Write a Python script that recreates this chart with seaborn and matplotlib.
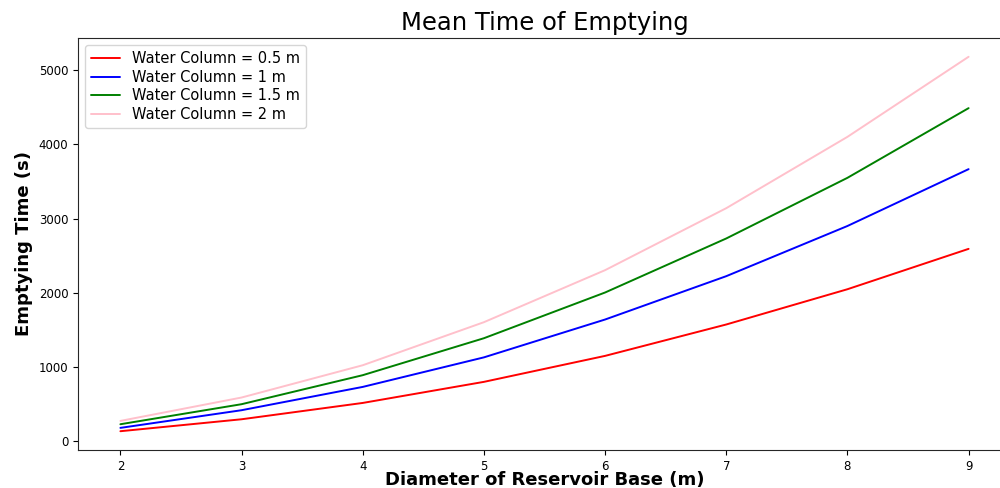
import numpy as np
import pandas as pd
import seaborn as sns
import matplotlib.pyplot as plt

# ------------------------------
# Data
# ------------------------------
diameters = [2, 3, 4, 5, 6, 7, 8, 9]
t_05 = [135, 296, 516, 800, 1150, 1573, 2048, 2592]
t_10 = [180, 418, 732, 1130, 1640, 2224, 2900, 3666]
t_15 = [229, 499, 890, 1388, 2004, 2732, 3549, 4488]
t_20 = [274, 589, 1024, 1604, 2305, 3140, 4101, 5180]

labels = ["Water Column = 0.5 m", "Water Column = 1 m",
          "Water Column = 1.5 m", "Water Column = 2 m"]
colors = ["red", "blue", "green", "pink"]

frames = []
for lab, vals in zip(labels, [t_05, t_10, t_15, t_20]):
    frames.append(pd.DataFrame({"D": diameters, "T": vals, "series": lab}))
df = pd.concat(frames, ignore_index=True)

# ------------------------------
# Plot
# ------------------------------
sns.set_style("ticks")
plt.rcParams['font.family'] = ['DejaVu Sans']
plt.rcParams['text.color'] = 'black'
plt.rcParams['axes.labelcolor'] = 'black'
plt.rcParams['xtick.color'] = 'black'
plt.rcParams['ytick.color'] = 'black'

fig = plt.figure(figsize=(10, 4.88), dpi=100)
ax = fig.add_axes([0.078, 0.078, 0.933, 0.844])

sns.lineplot(data=df, x="D", y="T", hue="series", hue_order=labels,
             palette=dict(zip(labels, colors)), linewidth=1.4, ax=ax)

ax.set_title("Mean Time of Emptying", fontsize=17.5, pad=6)
ax.set_xlabel("Diameter of Reservoir Base (m)", fontsize=13, fontweight="bold", labelpad=-1)
ax.set_ylabel("Emptying Time (s)", fontsize=13, fontweight="bold")
ax.tick_params(labelsize=8.5)
ax.set_xticks(diameters)
ax.set_yticks([0, 1000, 2000, 3000, 4000, 5000])

leg = ax.legend(loc="upper left", fontsize=10.5, frameon=True,
                labelspacing=0.25, borderaxespad=0.5)
leg.set_title(None)

fig.savefig("out.png", dpi=100)
